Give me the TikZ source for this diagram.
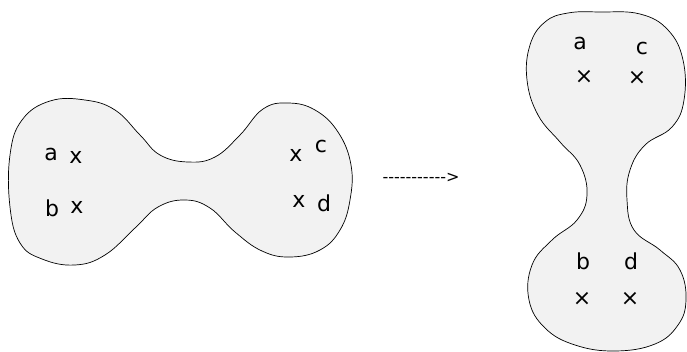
\documentclass[tikz,border=0pt]{standalone}
\usepackage{fontspec}
\setmainfont{DejaVu Sans}
\newfontfamily\arrfont{DejaVu Sans}[Ligatures=TeXOff]
\begin{document}
\begin{tikzpicture}[x=1pt,y=-1pt,
  blob/.style={draw=black,line width=0.7pt,fill=black!5},
  lbl/.style={inner sep=0pt,font=\fontsize{22}{22}\selectfont},
  xmark/.style={inner sep=0pt,font=\fontsize{22}{22}\selectfont}]
\useasboundingbox (0,0) rectangle (687,351);
% left shape
\draw[blob] plot[smooth cycle,tension=0.7] coordinates {
 (50,101) (85,100) (115,110) (140,135) (160,155) (188,162) (215,157)
 (240,135) (263,109) (288,103) (315,110) (338,132) (351,165) (350,200)
 (340,230) (320,250) (290,257) (262,251) (235,232) (210,208) (185,200)
 (158,207) (135,228) (105,255) (75,265) (42,259) (20,243) (10,207)
 (10,155) (22,120)};
% right shape
\draw[blob] plot[smooth cycle,tension=0.7] coordinates {
 (600,12) (640,14) (668,30) (683,60) (684,100) (672,127) (645,145)
 (630,170) (627,200) (634,230) (660,250) (680,270) (686,300) (678,325)
 (655,344) (615,351) (575,345) (545,328) (529,300) (532,265)
 (552,240) (577,220) (587,195) (580,165) (560,142) (538,115) (527,80)
 (530,45) (545,22) (568,13)};
% left labels
\node[lbl] (la) at (51,154) {a};
\node[xmark] (lxa) at (76,157) {x};
\node[lbl] (lb) at (52,208) {b};
\node[xmark] (lxb) at (77,207) {x};
\node[xmark] (lxc) at (296,155) {x};
\node[lbl] (lc) at (321,146) {c};
\node[xmark] (lxd) at (299,201) {x};
\node[lbl] (ld) at (324,203) {d};
% right labels
\node[lbl] (ra) at (580,43) {a};
\node[lbl] (rc) at (642,48) {c};
\node[xmark] (rxa) at (584,77) {×};
\node[xmark] (rxc) at (637,78) {×};
\node[lbl] (rb) at (583,261) {b};
\node[lbl] (rd) at (631,261) {d};
\node[xmark] (rxb) at (582,299) {×};
\node[xmark] (rxd) at (630,299) {×};
% arrow text
\node[inner sep=0pt,font=\arrfont\fontsize{16}{16}\selectfont] (arr) at (421,178) {-----------{>}};
\end{tikzpicture}
\end{document}
